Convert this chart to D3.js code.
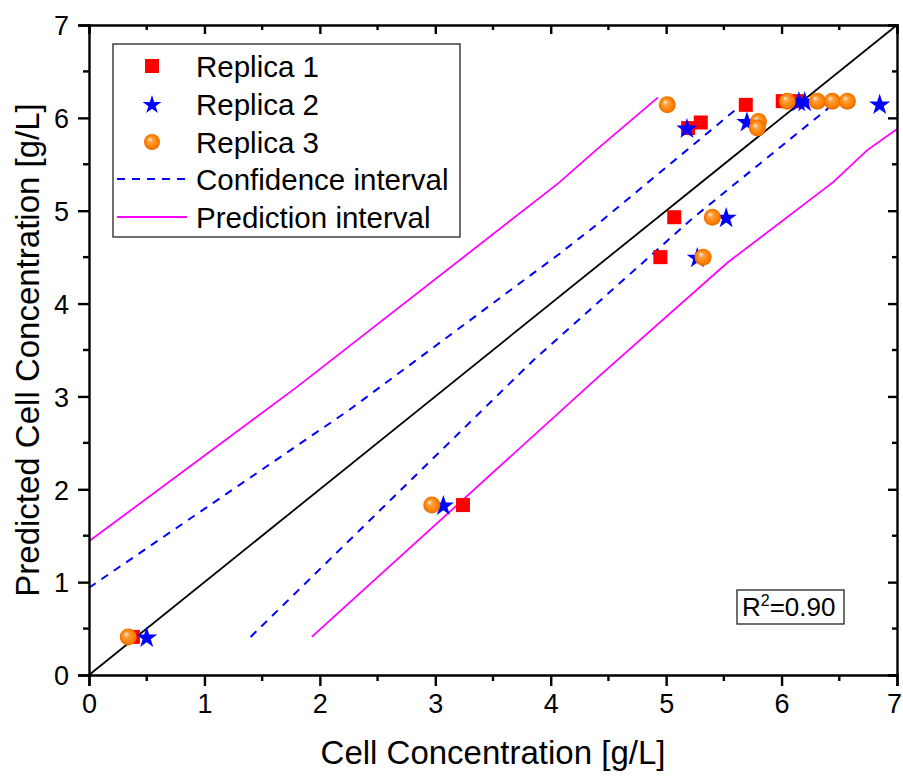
<!DOCTYPE html>
<html>
<head>
<meta charset="utf-8">
<script src="https://cdn.jsdelivr.net/npm/d3@7"></script>
<style>
body { margin:0; background:white; }
svg text { font-family: Arial, "Liberation Sans", sans-serif; fill:black; }
</style>
</head>
<body>
<svg id="chart"></svg>
<script>
var rep1X = [0.38, 3.24, 4.95, 5.07, 5.19, 5.30, 5.69, 6.01, 6.13]
var rep1Y = [0.41, 1.83, 4.50, 4.93, 5.89, 5.95, 6.14, 6.18, 6.18]

var rep2X = [0.50, 3.07, 5.27, 5.52, 5.18, 5.70, 6.15, 6.20, 6.85]
var rep2Y = [0.41, 1.83, 4.50, 4.93, 5.89, 5.96, 6.18, 6.18, 6.15]

var rep3X = [0.34, 2.97, 5.32, 5.40, 5.01, 5.80, 5.79, 6.05, 6.31, 6.44, 6.57]
var rep3Y = [0.41, 1.83, 4.50, 4.93, 6.14, 5.96, 5.89, 6.18, 6.18, 6.18, 6.18]

var confUpX = [0, 2.25, 4.08, 4.43, 5.73]
var confUpY = [0.94, 2.85, 4.54, 4.88, 6.22]
var confLoX = [1.40, 3.85, 5.23, 6.50]
var confLoY = [0.41, 3.39, 4.92, 6.20]

var predUpX = [0, 1.80, 4.07, 4.40, 4.93]
var predUpY = [1.44, 3.10, 5.30, 5.66, 6.22]
var predLoX = [1.93, 4.43, 5.53, 6.45, 6.74, 7.0]
var predLoY = [0.41, 3.23, 4.44, 5.31, 5.65, 5.88]

var identityX = [0, 7]

var majorTicks = [0, 1, 2, 3, 4, 5, 6, 7]
var minorTicks = [0.5, 1.5, 2.5, 3.5, 4.5, 5.5, 6.5]

var legendNames = ["Replica 1", "Replica 2", "Replica 3", "Confidence interval", "Prediction interval"]

var zip = function(xs, ys)
{
    return xs.map(function(x, i) { return {x:x, y:ys[i]} })
}

var screen = {width:903, height:776}
var margins = {top:25, left:89, right:6, bottom:101}
var graph = {
    width: screen.width - margins.left - margins.right,
    height: screen.height - margins.top - margins.bottom
}

var svg = d3.select("#chart")
    .attr("width", screen.width)
    .attr("height", screen.height)

var defs = svg.append("defs")
var grad = defs.append("radialGradient")
    .attr("id", "ball")
    .attr("cx", "50%").attr("cy", "50%").attr("r", "50%")
    .attr("fx", "35%").attr("fy", "32%")
grad.append("stop").attr("offset", "0%").attr("stop-color", "#fff6e8")
grad.append("stop").attr("offset", "30%").attr("stop-color", "#ffa040")
grad.append("stop").attr("offset", "75%").attr("stop-color", "#ff8000")
grad.append("stop").attr("offset", "100%").attr("stop-color", "#e86a00")

var xScale = d3.scaleLinear().domain([0, 7]).range([0, graph.width])
var yScale = d3.scaleLinear().domain([0, 7]).range([graph.height, 0])

var g = svg.append("g")
    .classed("graph", true)
    .attr("transform", "translate(" + margins.left + "," + margins.top + ")")

var line = d3.line()
    .x(function(d) { return xScale(d.x) })
    .y(function(d) { return yScale(d.y) })

// lines
g.append("path")
    .datum(zip(identityX, identityX))
    .attr("d", line)
    .attr("fill", "none")
    .attr("stroke", "black")
    .attr("stroke-width", 1.8)

var bandLines = [
    {pts: zip(confUpX, confUpY), color: "#0000ff", dash: "8,7", w: 2},
    {pts: zip(confLoX, confLoY), color: "#0000ff", dash: "8,7", w: 2},
    {pts: zip(predUpX, predUpY), color: "#ff00ff", dash: null, w: 1.8},
    {pts: zip(predLoX, predLoY), color: "#ff00ff", dash: null, w: 1.8}
]
bandLines.forEach(function(b)
{
    g.append("path")
        .datum(b.pts)
        .attr("d", line)
        .attr("fill", "none")
        .attr("stroke", b.color)
        .attr("stroke-width", b.w)
        .attr("stroke-dasharray", b.dash)
})

// markers
var drawSquares = function(sel, pts)
{
    sel.selectAll("rect.sq")
        .data(pts)
        .enter()
        .append("rect")
        .classed("sq", true)
        .attr("x", function(d) { return xScale(d.x) - 7 })
        .attr("y", function(d) { return yScale(d.y) - 7 })
        .attr("width", 14)
        .attr("height", 14)
        .attr("fill", "#ff0000")
}
var star = d3.symbol().type(d3.symbolStar).size(140)
var legendStar = d3.symbol().type(d3.symbolStar).size(110)
var drawStars = function(sel, pts)
{
    sel.selectAll("path.st")
        .data(pts)
        .enter()
        .append("path")
        .classed("st", true)
        .attr("d", star)
        .attr("transform", function(d) { return "translate(" + xScale(d.x) + "," + (yScale(d.y) + 1) + ")" })
        .attr("fill", "#0000ff")
}
var drawBalls = function(sel, pts)
{
    sel.selectAll("circle.bl")
        .data(pts)
        .enter()
        .append("circle")
        .classed("bl", true)
        .attr("cx", function(d) { return xScale(d.x) })
        .attr("cy", function(d) { return yScale(d.y) })
        .attr("r", 8.5)
        .attr("fill", "url(#ball)")
}
drawSquares(g.append("g"), zip(rep1X, rep1Y))
drawStars(g.append("g"), zip(rep2X, rep2Y))
drawBalls(g.append("g"), zip(rep3X, rep3Y))

// axes
var axisStyle = function(a)
{
    a.select(".domain").attr("stroke-width", 2.4)
    a.selectAll(".tick line").attr("stroke-width", 2.4)
    a.selectAll("text").style("font-size", "27px").attr("font-family", "Arial, Liberation Sans, sans-serif")
}

var axBottom = g.append("g").attr("transform", "translate(0," + graph.height + ")")
axBottom.call(d3.axisBottom(xScale).tickValues(majorTicks).tickFormat(d3.format("d")).tickSizeOuter(0).tickSize(11).tickPadding(8))
axBottom.call(axisStyle)
axBottom.selectAll(".tick text").filter(function(d) { return d == 7 }).attr("dx", -3)
axBottom.append("g").selectAll("line").data(minorTicks).enter().append("line")
    .attr("x1", xScale).attr("x2", xScale).attr("y1", 0).attr("y2", 6)
    .attr("stroke", "black").attr("stroke-width", 2.4)

var axLeft = g.append("g")
axLeft.call(d3.axisLeft(yScale).tickValues(majorTicks).tickFormat(d3.format("d")).tickSizeOuter(0).tickSize(11).tickPadding(9))
axLeft.call(axisStyle)
axLeft.selectAll("text").attr("dy", "0.36em")
axLeft.append("g").selectAll("line").data(minorTicks).enter().append("line")
    .attr("y1", yScale).attr("y2", yScale).attr("x1", 0).attr("x2", -6)
    .attr("stroke", "black").attr("stroke-width", 2.4)

var axTop = g.append("g")
axTop.call(d3.axisBottom(xScale).tickValues(majorTicks).tickFormat("").tickSizeOuter(0).tickSize(9))
axTop.call(axisStyle)
axTop.append("g").selectAll("line").data(minorTicks).enter().append("line")
    .attr("x1", xScale).attr("x2", xScale).attr("y1", 0).attr("y2", 5)
    .attr("stroke", "black").attr("stroke-width", 2.4)

var axRight = g.append("g").attr("transform", "translate(" + graph.width + ",0)")
axRight.call(d3.axisLeft(yScale).tickValues(majorTicks).tickFormat("").tickSizeOuter(0).tickSize(9))
axRight.call(axisStyle)
axRight.append("g").selectAll("line").data(minorTicks).enter().append("line")
    .attr("y1", yScale).attr("y2", yScale).attr("x1", 0).attr("x2", -5)
    .attr("stroke", "black").attr("stroke-width", 2.4)

// axis titles
svg.append("text")
    .text("Cell Concentration [g/L]")
    .attr("text-anchor", "middle")
    .attr("x", margins.left + graph.width / 2)
    .attr("y", 764)
    .style("font-size", "33px")

svg.append("g")
    .attr("transform", "translate(39," + (margins.top + graph.height / 2) + ")")
    .append("text")
    .text("Predicted Cell Concentration [g/L]")
    .attr("text-anchor", "middle")
    .attr("transform", "rotate(-90)")
    .style("font-size", "33px")

// legend
var legend = svg.append("g").classed("legend", true)
legend.append("rect")
    .attr("x", 113).attr("y", 44)
    .attr("width", 347).attr("height", 193)
    .attr("fill", "white")
    .attr("stroke", "#222")
    .attr("stroke-width", 1.3)

var rowY = [66, 104, 142, 179, 217]
var symX = 152
legend.append("rect").attr("x", symX - 7).attr("y", rowY[0] - 7).attr("width", 14).attr("height", 14).attr("fill", "#ff0000")
legend.append("path").attr("d", legendStar).attr("transform", "translate(" + symX + "," + (rowY[1] + 1) + ")").attr("fill", "#0000ff")
legend.append("circle").attr("cx", symX).attr("cy", rowY[2]).attr("r", 8).attr("fill", "url(#ball)")
legend.append("line").attr("x1", 117).attr("x2", 187).attr("y1", rowY[3]).attr("y2", rowY[3])
    .attr("stroke", "#0000ff").attr("stroke-width", 2).attr("stroke-dasharray", "8,7")
legend.append("line").attr("x1", 117).attr("x2", 187).attr("y1", rowY[4]).attr("y2", rowY[4])
    .attr("stroke", "#ff00ff").attr("stroke-width", 1.8)

legend.selectAll("text.lg")
    .data(legendNames)
    .enter()
    .append("text")
    .classed("lg", true)
    .text(function(d) { return d })
    .attr("x", 196)
    .attr("y", function(d, i) { return rowY[i] })
    .attr("dy", "0.36em")
    .style("font-size", "29.5px")

// R squared box
var rbox = svg.append("g")
rbox.append("rect")
    .attr("x", 737).attr("y", 590)
    .attr("width", 107).attr("height", 34)
    .attr("fill", "white")
    .attr("stroke", "#222")
    .attr("stroke-width", 1.3)
var rt = rbox.append("text")
    .attr("x", 742).attr("y", 616)
    .style("font-size", "26px")
rt.append("tspan").text("R")
rt.append("tspan").text("2").attr("dy", -10).style("font-size", "16px")
rt.append("tspan").text("=0.90").attr("dy", 10)
</script>
</body>
</html>
